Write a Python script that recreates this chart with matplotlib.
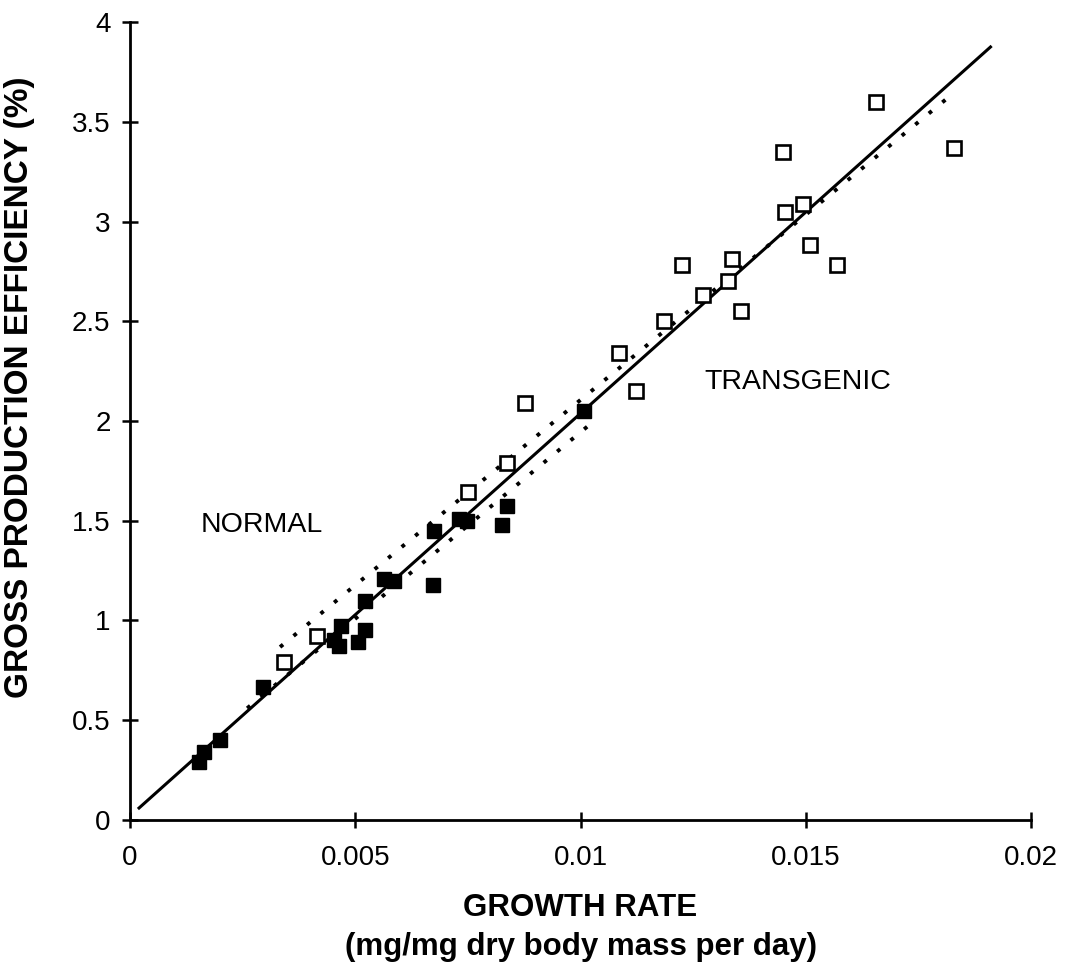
import matplotlib
matplotlib.use("Agg")
import matplotlib.pyplot as plt
from matplotlib.ticker import FuncFormatter

# normal fish (filled squares)
normal_x = [0.00152, 0.00164, 0.0020, 0.00296, 0.00453, 0.00463, 0.00468, 0.00506,
            0.00522, 0.00522, 0.00563, 0.00585, 0.00672, 0.00674, 0.0073, 0.00748,
            0.00826, 0.00837, 0.01007]
normal_y = [0.29, 0.34, 0.40, 0.665, 0.90, 0.87, 0.97, 0.89,
            0.95, 1.10, 1.21, 1.20, 1.18, 1.45, 1.51, 1.50,
            1.48, 1.575, 2.05]

# transgenic fish (open squares)
trans_x = [0.00341, 0.00416, 0.00751, 0.00837, 0.00876, 0.01086, 0.01124, 0.01185,
           0.01226, 0.01272, 0.01327, 0.01337, 0.01356, 0.01454, 0.0145, 0.01494,
           0.01509, 0.0157, 0.01656, 0.0183]
trans_y = [0.79, 0.92, 1.645, 1.79, 2.09, 2.34, 2.15, 2.50,
           2.78, 2.63, 2.70, 2.81, 2.55, 3.05, 3.35, 3.09,
           2.88, 2.78, 3.60, 3.37]

# fitted lines
all_fit_x = [0.0002, 0.0191]
all_fit_y = [0.06, 3.875]
normal_fit_x = [0.0026, 0.0103]
normal_fit_y = [0.56, 2.0]
trans_fit_x = [0.00333, 0.01826]
trans_fit_y = [0.867, 3.64]

plt.rcParams['font.family'] = ['Liberation Sans', 'DejaVu Sans']

fig = plt.figure(figsize=(10.72, 9.75), dpi=100)
ax = fig.add_axes([0.1213, 0.159, 0.8405, 0.8184])

ax.plot(all_fit_x, all_fit_y, color='black', lw=2.2)
ax.plot(normal_fit_x, normal_fit_y, color='black', lw=2.8, linestyle=(0, (1, 3.5)))
ax.plot(trans_fit_x, trans_fit_y, color='black', lw=2.8, linestyle=(0, (1, 3.5)))

ax.plot(trans_x, trans_y, 's', markersize=10, markerfacecolor='white',
        markeredgecolor='black', markeredgewidth=1.9, linestyle='none')
ax.plot(normal_x, normal_y, 's', markersize=10.5, color='black', linestyle='none')

ax.text(0.00156, 1.445, "NORMAL", fontsize=20.5)
ax.text(0.01275, 2.16, "TRANSGENIC", fontsize=20.5)

ax.set_xlim(0, 0.02)
ax.set_ylim(0, 4)
ax.set_xticks([0, 0.005, 0.01, 0.015, 0.02])
ax.set_yticks([0, 0.5, 1, 1.5, 2, 2.5, 3, 3.5, 4])
ax.xaxis.set_major_formatter(FuncFormatter(lambda v, p: "%g" % v))
ax.yaxis.set_major_formatter(FuncFormatter(lambda v, p: "%g" % v))

for s in ['top', 'right']:
    ax.spines[s].set_visible(False)
for s in ['left', 'bottom']:
    ax.spines[s].set_linewidth(2)

ax.tick_params(direction='inout', length=12, width=1.8, labelsize=20)
ax.tick_params(axis='x', pad=12)
ax.tick_params(axis='y', pad=8)

ax.set_xlabel("GROWTH RATE\n(mg/mg dry body mass per day)", fontsize=22.5,
              fontweight='bold', labelpad=16, linespacing=1.4)
ax.set_ylabel("GROSS PRODUCTION EFFICIENCY (%)", fontsize=24,
              fontweight='bold')
ax.yaxis.set_label_coords(-0.105, 0.542)

fig.savefig("out.png", dpi=100)
